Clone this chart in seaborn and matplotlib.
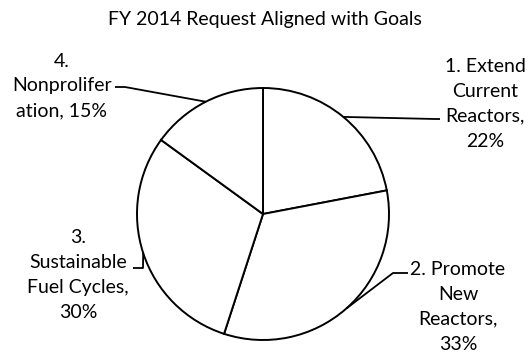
import numpy as np
import matplotlib
matplotlib.use("Agg")
import matplotlib.pyplot as plt
import seaborn as sns

# Budget shares by goal (percent)
goals = ["1. Extend\nCurrent\nReactors,", "2. Promote\nNew\nReactors,",
         "3.\nSustainable\nFuel Cycles,", "4.\nNonprolifer\nation,"]
shares = [22, 33, 30, 15]
title = "FY 2014 Request Aligned with Goals"

sns.set_theme(style="white")
plt.rcParams["font.family"] = ["Lato", "DejaVu Sans"]

W, H = 529, 354
fig = plt.figure(figsize=(W / 100, H / 100), dpi=100)
ax = fig.add_axes([0, 0, 1, 1])

cx, cy, R = 263, 140, 126
wedges, _ = ax.pie(shares, startangle=90, counterclock=False, center=(cx, cy),
                   radius=R, frame=True,
                   wedgeprops=dict(facecolor="white", edgecolor="black", linewidth=1.4))
ax.set_xlim(0, W)
ax.set_ylim(0, H)
ax.set_axis_off()

# label placement: text centre, elbow of leader line, leader end near text,
# and whether the percentage sits on its own line
layout = [
    dict(text=(485, 250), elbow=(435, 235), end=(440, 235), sep="\n"),
    dict(text=(458, 47), elbow=(393, 81), end=(408, 81), sep="\n"),
    dict(text=(78, 79), elbow=(143, 86), end=(133, 86), sep="\n"),
    dict(text=(62, 268), elbow=(125, 267), end=(115, 267), sep=" "),
]

fs = 14
for w, g, s, lay in zip(wedges, goals, shares, layout):
    mid = np.deg2rad((w.theta1 + w.theta2) / 2)
    px, py = cx + R * np.cos(mid), cy + R * np.sin(mid)
    ex, ey = lay["elbow"]
    tx, ty = lay["end"]
    ax.plot([px, ex, tx], [py, ey, ty], color="black", lw=1.3,
            solid_capstyle="butt", zorder=3)
    ax.text(*lay["text"], f"{g}{lay['sep']}{s}%", ha="center", va="center",
            fontsize=fs, linespacing=1.55, color="black")

ax.text(W / 2, H - 20, title, ha="center", va="center", fontsize=fs, color="black")

fig.savefig("out.png", dpi=100, facecolor="white")
